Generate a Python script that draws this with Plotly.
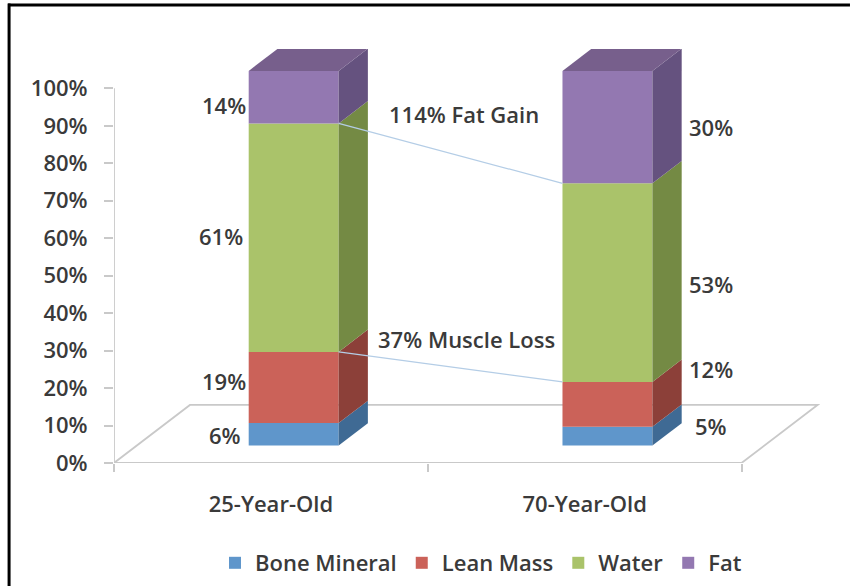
import plotly.graph_objects as go

categories = ["25-Year-Old", "70-Year-Old"]
series_names = ["Bone Mineral", "Lean Mass", "Water", "Fat"]
bone_mineral = [6, 5]
lean_mass = [19, 12]
water = [61, 53]
fat = [14, 30]
y_ticks = list(range(0, 101, 10))

series_values = [bone_mineral, lean_mass, water, fat]
front_colors = ["#5f96cb", "#cb6259", "#aac36a", "#9378b1"]
side_colors = ["#3f6a94", "#8c4039", "#748a44", "#65527f"]
top_color = "#775f8c"
text_color = "#3a3a3a"
grey = "#c9c9c9"
font_name = "Open Sans"

# pixel scale of the plot area
left, bottom = 113.5, 463
px_per_cat, px_per_pct = 314, 3.743


def x_from_px(px):
    return -0.5 + (px - left) / px_per_cat


def y_from_px(px):
    return (bottom - px) / px_per_pct


# oblique projection of the floor: depth 0 is the front edge, depth 1 the back
floor_dx, floor_dy = 76 / px_per_cat, 58 / px_per_pct
bar_width = 90 / px_per_cat
front_depth, bar_depth = 0.3, 0.385
x_shift, y_shift = floor_dx * front_depth, floor_dy * front_depth
side_dx, side_dy = floor_dx * bar_depth, floor_dy * bar_depth

fig = go.Figure()

bar_x = [i + x_shift for i in range(len(categories))]
cumulative = [[y_shift, y_shift]]
for values in series_values:
    cumulative.append([c + v for c, v in zip(cumulative[-1], values)])

for s, name in enumerate(series_names):
    fig.add_trace(go.Bar(
        x=bar_x,
        y=series_values[s],
        base=cumulative[s],
        width=bar_width,
        name=name,
        marker=dict(color=front_colors[s], line=dict(width=0)),
    ))

# right hand faces of the bars
for i in range(len(categories)):
    xr = bar_x[i] + bar_width / 2
    xl = bar_x[i] - bar_width / 2
    for s in range(len(series_names)):
        y0, y1 = cumulative[s][i], cumulative[s + 1][i]
        fig.add_trace(go.Scatter(
            x=[xr, xr + side_dx, xr + side_dx, xr, xr],
            y=[y0, y0 + side_dy, y1 + side_dy, y1, y0],
            mode="lines", fill="toself", fillcolor=side_colors[s],
            line=dict(width=0), showlegend=False, hoverinfo="skip",
        ))
    # top face
    ytop = cumulative[-1][i]
    fig.add_trace(go.Scatter(
        x=[xl, xr, xr + side_dx, xl + side_dx, xl],
        y=[ytop, ytop, ytop + side_dy, ytop + side_dy, ytop],
        mode="lines", fill="toself", fillcolor=top_color,
        line=dict(width=0), showlegend=False, hoverinfo="skip",
    ))

# connector lines between the bars
for level in (2, 3):
    fig.add_trace(go.Scatter(
        x=[bar_x[0] + bar_width / 2, bar_x[1] - bar_width / 2],
        y=[cumulative[level][0], cumulative[level][1]],
        mode="lines", line=dict(color="#b4cde6", width=1.2),
        showlegend=False, hoverinfo="skip",
    ))

# floor outline and value axis line sit behind the bars
shapes = [
    dict(type="path", layer="below", xref="x", yref="y",
         path=f"M -0.5 0 L 1.5 0 L {1.5 + floor_dx} {floor_dy} L {-0.5 + floor_dx} {floor_dy} Z",
         line=dict(color=grey, width=1.8)),
    dict(type="line", layer="below", xref="x", yref="y", x0=-0.5, x1=-0.5, y0=0, y1=100,
         line=dict(color=grey, width=1.8)),
    # image frame: only top and left edges are in the picture
    dict(type="line", xref="paper", yref="paper", x0=(7.5 - left) / 706.5, x1=(850 - left) / 706.5,
         y0=(bottom - 5.5) / 413.6, y1=(bottom - 5.5) / 413.6, line=dict(color="black", width=3)),
    dict(type="line", xref="paper", yref="paper", x0=(8.5 - left) / 706.5, x1=(8.5 - left) / 706.5,
         y0=(bottom - 4) / 413.6, y1=(bottom - 586) / 413.6, line=dict(color="black", width=3)),
]

# label positions in pixels of the picture
value_label_px = [
    [(225, 435), (711, 426)],
    [(224, 381), (711, 369)],
    [(221, 236), (711, 284)],
    [(224, 105), (711, 127)],
]
annotations = []
for s, values in enumerate(series_values):
    for i, v in enumerate(values):
        px, py = value_label_px[s][i]
        annotations.append(dict(x=x_from_px(px), y=y_from_px(py), text=f"{v}%", showarrow=False))
annotations.append(dict(x=x_from_px(464), y=y_from_px(114), text="114% Fat Gain", showarrow=False))
annotations.append(dict(x=x_from_px(466), y=y_from_px(339), text="37% Muscle Loss", showarrow=False))

fig.update_layout(
    width=850, height=586,
    margin=dict(l=left, r=30, t=49.4, b=586 - bottom, pad=0),
    paper_bgcolor="white", plot_bgcolor="white",
    barmode="overlay",
    font=dict(family=font_name, size=22, color=text_color, weight=600),
    shapes=shapes,
    annotations=annotations,
    showlegend=True,
    legend=dict(
        orientation="h", xref="container", yref="container",
        x=481 / 850, y=1 - 563 / 586, xanchor="center", yanchor="middle",
        traceorder="normal", font=dict(size=22),
    ),
    xaxis=dict(
        range=[-0.5, 1.75], tickvals=[0, 1], ticktext=categories,
        ticks="", showgrid=False, zeroline=False, showline=False,
        automargin=False, ticklabelstandoff=26,
        minor=dict(tickvals=[-0.5, 0.5, 1.5], ticks="outside", ticklen=8, tickcolor=grey, tickwidth=1.5),
    ),
    yaxis=dict(
        range=[0, 110.5], tickvals=y_ticks, ticktext=[f"{t}%" for t in y_ticks],
        ticks="outside", ticklen=9, tickcolor=grey, tickwidth=1.5,
        showgrid=False, zeroline=False, showline=False,
        automargin=False, ticklabelstandoff=12,
    ),
)

fig.write_html("out.html", config={"displayModeBar": False},
               post_script="document.body.style.margin = '0';")
